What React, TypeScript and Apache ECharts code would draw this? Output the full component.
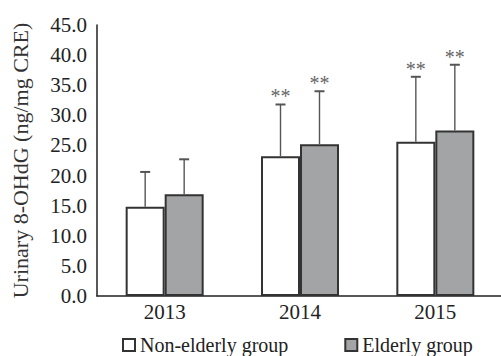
import React, { useEffect, useRef } from "react";
import * as echarts from "echarts";

const categories = ["2013", "2014", "2015"];
const nonElderlyMean = [14.8, 23.2, 25.6];
const nonElderlySD = [5.8, 8.6, 10.8];
const elderlyMean = [16.9, 25.2, 27.5];
const elderlySD = [5.8, 8.8, 10.9];
const nonElderlySig = ["", "**", "**"];
const elderlySig = ["", "**", "**"];
const yTicks = { min: 0, max: 45, interval: 5 };

const FONT = "Liberation Serif, Times New Roman, serif";
const BAR_W = 39;

function errorSeries(name: string, means: number[], sds: number[], sigs: string[], offset: number) {
  return {
    type: "custom",
    name: name + "-err",
    z: 5,
    silent: true,
    encode: { x: 0, y: 1 },
    data: means.map((m, i) => [i, m, sds[i]]),
    renderItem: (params: any, api: any) => {
      const idx = api.value(0);
      const mean = api.value(1);
      const sd = api.value(2);
      const sig = sigs[idx];
      const base = api.coord([idx, mean]);
      const top = api.coord([idx, mean + sd]);
      const x = base[0] + offset;
      const children: any[] = [
        { type: "line", shape: { x1: x, y1: base[1], x2: x, y2: top[1] }, style: { stroke: "#555", lineWidth: 1.4 } },
        { type: "line", shape: { x1: x - 5, y1: top[1], x2: x + 5, y2: top[1] }, style: { stroke: "#555", lineWidth: 2 } },
      ];
      if (sig) {
        children.push({
          type: "text",
          x: x,
          y: top[1] - 8,
          style: {
            text: sig,
            fill: "#666",
            fontFamily: FONT,
            fontSize: 20,
            align: "center",
            verticalAlign: "middle",
          },
        });
      }
      return { type: "group", children };
    },
  };
}

export default function App() {
  const ref = useRef<HTMLDivElement>(null);
  useEffect(() => {
    if (!ref.current) return;
    const chart = echarts.init(ref.current, undefined, { renderer: "svg" });
    chart.setOption({
      animation: false,
      backgroundColor: "#fff",
      textStyle: { fontFamily: FONT, color: "#222" },
      grid: { left: 97, top: 25, width: 406, height: 271, containLabel: false, outerBoundsMode: "none" },
      legend: {
        left: 117,
        top: 330,
        padding: 5,
        itemWidth: 12,
        itemHeight: 12,
        itemGap: 56,
        textStyle: { fontFamily: FONT, fontSize: 20, color: "#222" },
        data: [
          { name: "Non-elderly group", icon: "rect", itemStyle: { color: "#fff", borderColor: "#333", borderWidth: 2 } },
          { name: "Elderly group", icon: "rect", itemStyle: { color: "#a3a4a6", borderColor: "#333", borderWidth: 2 } },
        ],
      },
      xAxis: {
        type: "category",
        data: categories,
        axisLine: { lineStyle: { color: "#222", width: 1.5 } },
        axisTick: { show: false },
        axisLabel: { fontFamily: FONT, fontSize: 21, color: "#222", margin: 5 },
      },
      yAxis: {
        type: "value",
        min: yTicks.min,
        max: yTicks.max,
        interval: yTicks.interval,
        name: "Urinary 8-OHdG (ng/mg CRE)",
        nameLocation: "middle",
        nameRotate: 90,
        nameGap: 66,
        nameTextStyle: { fontFamily: FONT, fontSize: 22, color: "#333" },
        axisLine: { show: true, lineStyle: { color: "#222", width: 1.5 } },
        axisTick: { show: false },
        splitLine: { show: false },
        axisLabel: {
          fontFamily: FONT,
          fontSize: 21,
          color: "#222",
          margin: 10,
          formatter: (v: number) => v.toFixed(1),
        },
      },
      series: [
        {
          type: "bar",
          name: "Non-elderly group",
          data: nonElderlyMean,
          barWidth: BAR_W,
          barGap: "0%",
          itemStyle: { color: "#fff", borderColor: "#333", borderWidth: 2 },
        },
        {
          type: "bar",
          name: "Elderly group",
          data: elderlyMean,
          barWidth: BAR_W,
          barGap: "0%",
          itemStyle: { color: "#a3a4a6", borderColor: "#333", borderWidth: 2 },
        },
        errorSeries("Non-elderly group", nonElderlyMean, nonElderlySD, nonElderlySig, -BAR_W / 2),
        errorSeries("Elderly group", elderlyMean, elderlySD, elderlySig, BAR_W / 2),
      ],
    });
    return () => chart.dispose();
  }, []);
  return (
    <div
      ref={ref}
      style={{ position: "fixed", left: 0, top: 0, width: 501, height: 356, background: "#fff" }}
    />
  );
}
